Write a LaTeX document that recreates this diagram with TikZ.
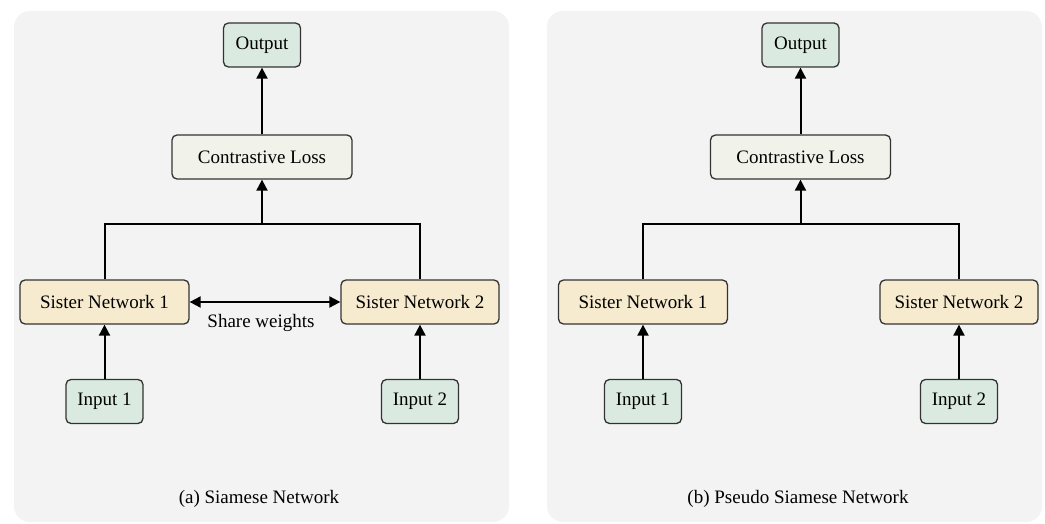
\documentclass[tikz,border=0pt]{standalone}
\usepackage{fontspec}
\setmainfont{Liberation Serif}
\usetikzlibrary{arrows.meta}
\definecolor{panelbg}{HTML}{F3F3F3}
\definecolor{greenfill}{HTML}{DBEAE0}
\definecolor{lossfill}{HTML}{F1F2EA}
\definecolor{sisterfill}{HTML}{F6EBCF}
\definecolor{boxline}{HTML}{333333}
\tikzset{
  panel/.style={fill=panelbg, draw=none, rounded corners=16pt},
  box/.style={draw=boxline, line width=1.3pt, rounded corners=5pt, inner sep=0pt, minimum height=44pt, font=\fontsize{19}{22}\selectfont},
  greenbox/.style={box, fill=greenfill, minimum width=77pt},
  lossbox/.style={box, fill=lossfill, minimum width=180pt},
  sisterbox/.style={box, fill=sisterfill},
  link/.style={draw=black, line width=2pt},
  arr/.style={link, -{Triangle[length=11pt,width=11pt]}},
  biarr/.style={link, {Triangle[length=11pt,width=11pt]}-{Triangle[length=11pt,width=11pt]}},
  lbl/.style={font=\fontsize{19}{22}\selectfont, inner sep=0pt},
}
\begin{document}
\begin{tikzpicture}[x=1pt,y=-1pt]
\useasboundingbox (0,0) rectangle (1045,524);
\fill[white] (0,0) rectangle (1045,524);
% panels
\path[panel] (14,11) rectangle (509,522);
\path[panel] (547,11) rectangle (1042,522);

% ---- left panel
\node[greenbox] (outA) at (262,45) {Output};
\node[lossbox] (lossA) at (262,157) {Contrastive Loss};
\node[sisterbox, minimum width=169pt] (s1A) at (104.5,302) {Sister Network 1};
\node[sisterbox, minimum width=158pt] (s2A) at (420,302) {Sister Network 2};
\node[greenbox] (in1A) at (104.5,401.5) {Input 1};
\node[greenbox] (in2A) at (420,401.5) {Input 2};
\coordinate (jA) at (262,224);
\draw[link] (s1A.north) |- (jA) -| (s2A.north);
\draw[arr] (jA) -- (lossA.south);
\draw[arr] (lossA.north) -- (outA.south);
\draw[arr] (in1A.north) -- (in1A.north |- s1A.south);
\draw[arr] (in2A.north) -- (in2A.north |- s2A.south);
\draw[biarr] (s1A.east) -- (s2A.west);
\node[lbl] (swA) at (261,323) {Share weights};
\node[lbl] (capA) at (259,499) {(a) Siamese Network};

% ---- right panel
\node[greenbox] (outB) at (800.5,45) {Output};
\node[lossbox] (lossB) at (800.5,157) {Contrastive Loss};
\node[sisterbox, minimum width=169pt] (s1B) at (643,302) {Sister Network 1};
\node[sisterbox, minimum width=158pt] (s2B) at (959,302) {Sister Network 2};
\node[greenbox] (in1B) at (643,401.5) {Input 1};
\node[greenbox] (in2B) at (959,401.5) {Input 2};
\coordinate (jB) at (800.5,224);
\draw[link] (s1B.north) |- (jB) -| (s2B.north);
\draw[arr] (jB) -- (lossB.south);
\draw[arr] (lossB.north) -- (outB.south);
\draw[arr] (in1B.north) -- (in1B.north |- s1B.south);
\draw[arr] (in2B.north) -- (in2B.north |- s2B.south);
\node[lbl] (capB) at (798,499) {(b) Pseudo Siamese Network};
\end{tikzpicture}
\end{document}
